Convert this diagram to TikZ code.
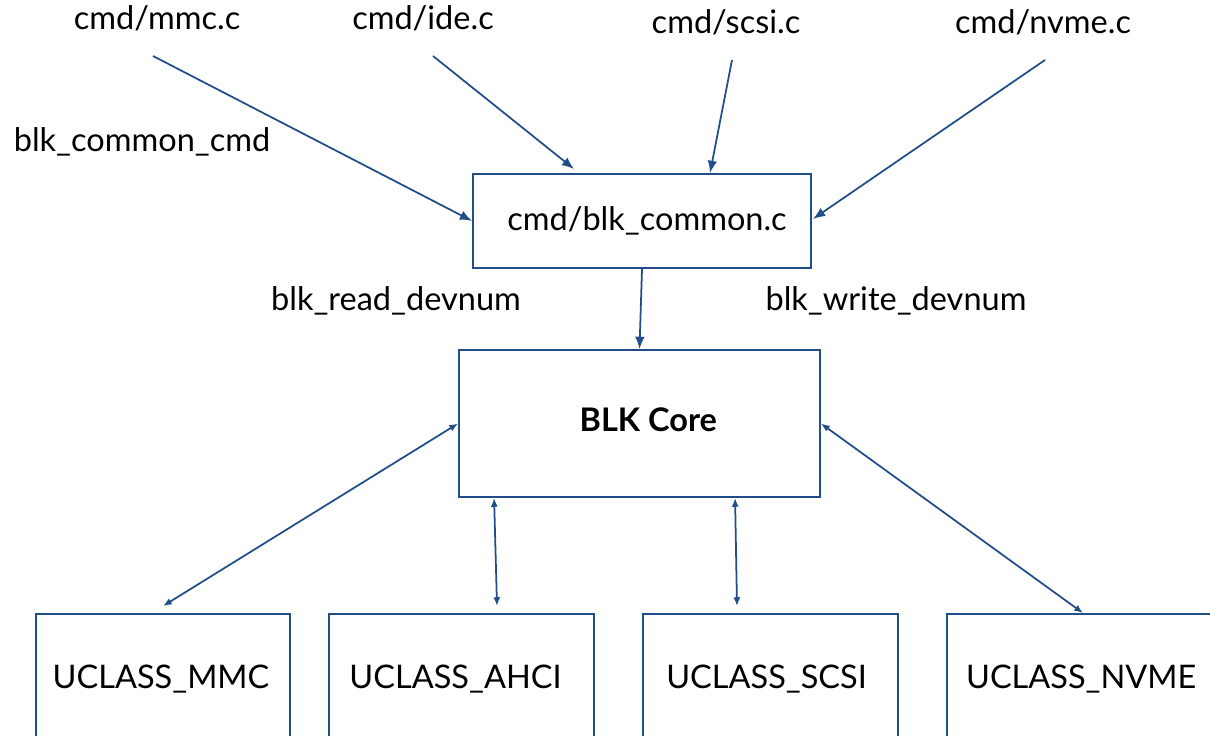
\documentclass[tikz,border=0pt]{standalone}
\usepackage{fontspec}
\setmainfont{Lato}
\usetikzlibrary{arrows.meta}

\definecolor{blkblue}{RGB}{33,78,136}

\tikzset{
    box/.style={draw=blkblue, line width=1.1pt, inner sep=0pt},
    link/.style={draw=blkblue, line width=1pt, -{Latex[length=7pt,width=5.5pt]}},
    duplex/.style={draw=blkblue, line width=1pt, {Latex[length=5pt,width=4pt]}-{Latex[length=5pt,width=4pt]}},
}

\begin{document}
\begin{tikzpicture}[x=0.02cm, y=-0.02cm, font=\fontsize{18.5}{22}\selectfont]
    \useasboundingbox (0,0) rectangle (1210,736);
    \clip (0,0) rectangle (1210,736);

    % middle boxes
    \node[box, minimum width=6.76cm, minimum height=1.88cm] (common) at (642,221) {\hspace{5.7pt}cmd/blk\_common.c};
    \node[box, minimum width=7.22cm, minimum height=2.94cm] (core) at (639.5,423.5) {\hspace{10pt}\raisebox{2.3pt}[\height][0pt]{\textbf{BLK Core}}};

    % uclass boxes (cut by the bottom edge)
    \node[box, minimum width=5.08cm, minimum height=2.6cm] (mmc) at (163,679) {\hspace{-2.3pt}UCLASS\_MMC};
    \node[box, minimum width=5.30cm, minimum height=2.6cm] (ahci) at (461.5,679) {\hspace{-6.8pt}UCLASS\_AHCI};
    \node[box, minimum width=5.10cm, minimum height=2.6cm] (scsi) at (770.5,679) {\hspace{-4.5pt}UCLASS\_SCSI};
    \node[box, minimum width=5.66cm, minimum height=2.6cm] (nvme) at (1088.5,679) {\hspace{-8.3pt}UCLASS\_NVME};

    % commands
    \node (mmcfile) at (157,18) {cmd/mmc.c};
    \node (idefile) at (423,18) {cmd/ide.c};
    \node (scsifile) at (726,22) {cmd/scsi.c};
    \node (nvmefile) at (1043,22) {cmd/nvme.c};

    \node (commoncmd) at (142,142) {blk\_common\_cmd};
    \node (readdev) at (396,301) {blk\_read\_devnum};
    \node (writedev) at (896,301) {blk\_write\_devnum};

    \coordinate (mmcstart) at (153,56);
    \coordinate (idestart) at (433,56);
    \coordinate (scsistart) at (732,60);
    \coordinate (nvmestart) at (1045,60);

    \draw[link] (mmcstart) -- (common.west);
    \draw[link] (idestart) -- ([shift={(102,-4)}]common.north west);
    \draw[link] (scsistart) -- ([shift={(68,0)}]common.north);
    \draw[link] (nvmestart) -- ([shift={(1,-2)}]common.east);
    \draw[link] (common.south) -- (core.north);

    \draw[duplex] (core.west) -- ([shift={(0,-7)}]mmc.north);
    \draw[duplex] ([shift={(36,0)}]core.south west) -- ([shift={(35.5,-7)}]ahci.north);
    \draw[duplex] ([shift={(277,0)}]core.south west) -- ([shift={(-33.5,-7)}]scsi.north);
    \draw[duplex] (core.east) -- ([shift={(-5.5,0)}]nvme.north);
\end{tikzpicture}
\end{document}
